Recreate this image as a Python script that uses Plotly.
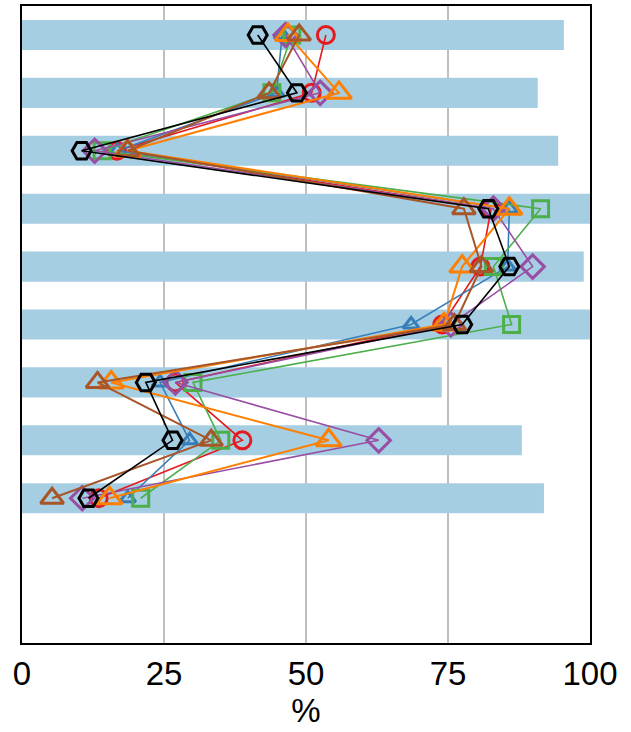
import plotly.graph_objects as go

rows = [1, 2, 3, 4, 5, 6, 7, 8, 9]
bar_values = [95.4, 90.8, 94.4, 100, 98.9, 100, 73.9, 88.0, 91.9]

red = [53.5, 51.0, 16.7, 82.6, 80.7, 74.0, 27.0, 38.8, 13.5]
blue = [45.8, 44.8, 16.8, 85.8, 85.5, 68.5, 24.3, 29.5, 18.6]
green = [47.5, 44.0, 14.1, 91.3, 83.0, 86.2, 30.1, 35.0, 20.9]
purple = [46.4, 52.5, 12.8, 83.0, 89.9, 75.5, 27.0, 62.8, 10.6]
orange = [46.8, 55.8, 18.6, 85.8, 77.5, 74.3, 15.7, 54.0, 15.4]
brown = [48.8, 43.5, 18.6, 77.8, 80.9, 76.1, 13.3, 33.3, 5.3]
black = [41.5, 48.4, 10.5, 82.1, 85.8, 77.5, 21.8, 26.5, 11.7]

x_ticks = [0, 25, 50, 75, 100]

fig = go.Figure()
fig.add_trace(go.Bar(x=bar_values, y=rows, orientation="h", width=0.52,
                     marker=dict(color="#a6cee3", line=dict(width=0)), showlegend=False))

series = [
    (red, "#e41a1c", "circle-open", 17, 1.6),
    (blue, "#377eb8", "triangle-up-open", 14, 1.6),
    (green, "#4daf4a", "square-open", 16, 1.6),
    (purple, "#984ea3", "diamond-open", 18, 1.6),
    (orange, "#ff7f00", "triangle-up-open", 22, 2),
    (brown, "#a65628", "triangle-up-open", 20, 2),
    (black, "#000000", "hexagon2-open", 19, 1.6),
]
for vals, col, sym, sz, lw in series:
    fig.add_trace(go.Scatter(x=vals, y=rows, mode="lines+markers",
                             line=dict(color=col, width=lw),
                             marker=dict(symbol=sym, size=sz, color=col,
                                         line=dict(color=col, width=3)),
                             showlegend=False))

fig.update_layout(
    width=631, height=732,
    margin=dict(l=22, r=41, t=6, b=89),
    plot_bgcolor="white", paper_bgcolor="white",
    font=dict(family="Liberation Sans, Arial, sans-serif", color="black"),
    showlegend=False,
    xaxis=dict(range=[0, 100], tickvals=x_ticks, ticktext=[str(t) for t in x_ticks],
               showgrid=True, gridcolor="#bfbfbf", gridwidth=2,
               showline=True, linecolor="black", linewidth=2, mirror=True,
               ticks="", tickfont=dict(size=33), automargin=False,
               title=dict(text="%", font=dict(size=33), standoff=2),
               zeroline=False),
    yaxis=dict(range=[11.5, 0.5], showticklabels=False, showgrid=False,
               showline=True, linecolor="black", linewidth=2, mirror=True,
               ticks="", zeroline=False, automargin=False),
)
fig.write_html("out.html", config={"displayModeBar": False},
               post_script="document.body.style.margin='0';document.body.style.overflow='hidden';")
